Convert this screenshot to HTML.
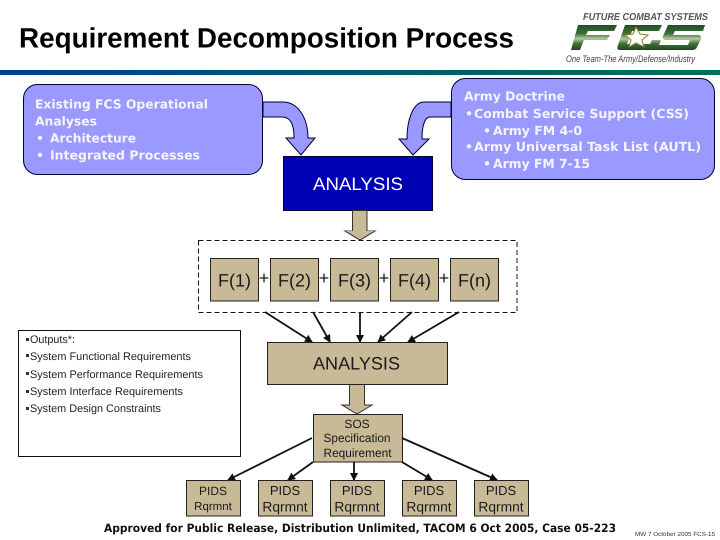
<!DOCTYPE html>
<html><head><meta charset="utf-8"><style>
html,body{margin:0;padding:0;background:#fff;width:720px;height:540px;overflow:hidden}
svg{display:block;text-rendering:geometricPrecision}
.v{font-family:"DejaVu Sans","Liberation Sans",sans-serif;font-weight:bold;fill:#f4f4ff;font-size:12.5px}
.a{font-family:"Liberation Sans",sans-serif;fill:#1a1a1a}
.o{font-family:"Liberation Sans",sans-serif;font-size:11px;fill:#222}
</style></head><body>
<svg width="720" height="540" viewBox="0 0 720 540" xmlns="http://www.w3.org/2000/svg">
<defs>
<linearGradient id="band" x1="0" x2="1" y1="0" y2="0"><stop offset="0" stop-color="#003f8c"/><stop offset="1" stop-color="#00705a"/></linearGradient>
<linearGradient id="g" x1="0" x2="0" y1="0" y2="1"><stop offset="0" stop-color="#234d23"/><stop offset=".35" stop-color="#3f6f3a"/><stop offset=".55" stop-color="#b5c8a0"/><stop offset=".75" stop-color="#3f6f3a"/><stop offset="1" stop-color="#1f451f"/></linearGradient>
<marker id="ah" markerWidth="9" markerHeight="9" refX="7" refY="4" orient="auto" markerUnits="userSpaceOnUse"><path d="M0,0L8,4L0,8z" fill="#111"/></marker>
</defs>
<rect width="720" height="540" fill="#fff"/>
<rect x="0" y="70" width="720" height="5" fill="url(#band)"/>
<text x="19" y="47.5" style="font-family:'Liberation Sans',sans-serif;font-weight:bold;font-size:28px;fill:#000" textLength="495" lengthAdjust="spacingAndGlyphs">Requirement Decomposition Process</text>

<!-- logo -->
<text x="583" y="20" style="font-family:'Liberation Sans',sans-serif;font-weight:bold;font-style:italic;font-size:10px;fill:#555" textLength="125" lengthAdjust="spacingAndGlyphs">FUTURE COMBAT SYSTEMS</text>
<g fill="url(#g)">
<path d="M578,25H617L614,31H588L586,35H610L607,40H584L580,50H571z"/>
<path d="M625,25H662L659,31H632L627,44H650L652,40H661L657,50H620Q616,50 618,45z"/>
<path d="M668,25H705L703,31H675L673,35H698Q702,35 701,39L697,47Q696,50 692,50H656L658,45H688L690,40H666Q662,40 663,36Z"/>
</g>
<path d="M636,27L640,34L648,35L642,40L644,47L636,43L629,47L631,40L625,35L633,34z" fill="#fff" stroke="#8a7a30" stroke-width="1"/>
<text x="566" y="62" style="font-family:'Liberation Sans',sans-serif;font-style:italic;font-size:9.5px;fill:#444" textLength="129" lengthAdjust="spacingAndGlyphs">One Team-The Army/Defense/Industry</text>

<!-- top boxes -->
<rect x="23.5" y="84.5" width="239" height="90" rx="14" fill="#9999ff" stroke="#000033" stroke-width="1"/>
<text class="v" x="35" y="108.5" textLength="173" lengthAdjust="spacingAndGlyphs">Existing FCS Operational</text>
<text class="v" x="35" y="125.5" textLength="62" lengthAdjust="spacingAndGlyphs">Analyses</text>
<text class="v" x="36" y="142.5">•</text>
<text class="v" x="50" y="142.5" textLength="86" lengthAdjust="spacingAndGlyphs">Architecture</text>
<text class="v" x="36" y="159.5">•</text>
<text class="v" x="50" y="159.5" textLength="150" lengthAdjust="spacingAndGlyphs">Integrated Processes</text>

<rect x="451.5" y="78.5" width="263" height="101" rx="14" fill="#9999ff" stroke="#000033" stroke-width="1"/>
<text class="v" x="464" y="100.5" textLength="101" lengthAdjust="spacingAndGlyphs">Army Doctrine</text>
<text class="v" x="465" y="118">•</text>
<text class="v" x="474" y="118" textLength="215" lengthAdjust="spacingAndGlyphs">Combat Service Support (CSS)</text>
<text class="v" x="483" y="135">•</text>
<text class="v" x="493" y="135" textLength="89" lengthAdjust="spacingAndGlyphs">Army FM 4-0</text>
<text class="v" x="465" y="151">•</text>
<text class="v" x="474" y="151" textLength="227" lengthAdjust="spacingAndGlyphs">Army Universal Task List (AUTL)</text>
<text class="v" x="483" y="168">•</text>
<text class="v" x="493" y="168" textLength="97" lengthAdjust="spacingAndGlyphs">Army FM 7-15</text>

<!-- curved arrows -->
<path d="M263,102H283C298,102 308,118 308,138H315L301,155L286,138H294C294,125 291,117 282,117H263z" fill="#9999ff" stroke="#000033" stroke-width="1"/>
<path d="M451,102H424C414,102 407,118 407,139H399L413,155L429,139H422C422,128 424,117 430,117H451z" fill="#9999ff" stroke="#000033" stroke-width="1"/>

<!-- blue analysis -->
<rect x="283.5" y="156.5" width="149" height="54" fill="#0000b4" stroke="#000033" stroke-width="1"/>
<text x="313" y="190" style="font-family:'Liberation Sans',sans-serif;font-size:18px;fill:#fff" textLength="90" lengthAdjust="spacingAndGlyphs">ANALYSIS</text>

<!-- tan arrow 1 -->
<path d="M352.5,210.5H367V231H375L360,240L345,231H352.5z" fill="#c8ba96" stroke="#333" stroke-width="1"/>

<!-- dashed box -->
<rect x="198.5" y="240.5" width="318.5" height="72" fill="#fff" stroke="#111" stroke-width="1" stroke-dasharray="5 3"/>
<path d="M345,231L360,240L375,231" fill="#c8ba96" stroke="#333"/>
<g fill="#c8ba96" stroke="#222" stroke-width="1">
<rect x="210.5" y="258.5" width="48" height="42.5"/>
<rect x="270.5" y="258.5" width="48" height="42.5"/>
<rect x="330.5" y="258.5" width="48" height="42.5"/>
<rect x="390.5" y="258.5" width="48" height="42.5"/>
<rect x="450.5" y="258.5" width="48" height="42.5"/>
</g>
<g font-size="18" text-anchor="middle">
<text class="a" x="234.5" y="286.5">F(1)</text>
<text class="a" x="294.5" y="286.5">F(2)</text>
<text class="a" x="354.5" y="286.5">F(3)</text>
<text class="a" x="414.5" y="286.5">F(4)</text>
<text class="a" x="474.5" y="286.5">F(n)</text>
<text class="a" x="264" y="284">+</text>
<text class="a" x="324" y="284">+</text>
<text class="a" x="384" y="284">+</text>
<text class="a" x="444" y="284">+</text>
</g>

<!-- arrows to analysis -->
<g stroke="#111" stroke-width="1.8" fill="none" marker-end="url(#ah)">
<line x1="265" y1="312" x2="312" y2="342"/>
<line x1="313" y1="312" x2="330" y2="342"/>
<line x1="360" y1="312" x2="360" y2="342"/>
<line x1="412" y1="312" x2="378" y2="342"/>
<line x1="459" y1="312" x2="408" y2="342"/>
</g>

<!-- outputs -->
<rect x="18.5" y="330.5" width="222" height="126" fill="#fff" stroke="#111" stroke-width="1"/>
<g fill="#333">
<rect x="26" y="338" width="3" height="3"/>
<rect x="26" y="354" width="3" height="3"/>
<rect x="26" y="372" width="3" height="3"/>
<rect x="26" y="390" width="3" height="3"/>
<rect x="26" y="407" width="3" height="3"/>
</g>
<text class="o" x="30" y="343" textLength="45" lengthAdjust="spacingAndGlyphs">Outputs*:</text>
<text class="o" x="30" y="360" textLength="161" lengthAdjust="spacingAndGlyphs">System Functional Requirements</text>
<text class="o" x="30" y="378" textLength="173" lengthAdjust="spacingAndGlyphs">System Performance Requirements</text>
<text class="o" x="30" y="395" textLength="153" lengthAdjust="spacingAndGlyphs">System Interface Requirements</text>
<text class="o" x="30" y="412" textLength="131" lengthAdjust="spacingAndGlyphs">System Design Constraints</text>

<!-- analysis 2 -->
<path d="M349.5,384H364.5V405H372L357,414L342,405H349.5z" fill="#c8ba96" stroke="#333" stroke-width="1"/>
<rect x="267.5" y="342.5" width="180" height="42" fill="#c8ba96" stroke="#222" stroke-width="1"/>
<text class="a" x="313" y="369.5" font-size="18" textLength="87" lengthAdjust="spacingAndGlyphs">ANALYSIS</text>

<!-- SOS -->
<rect x="313.5" y="414.5" width="89" height="47.5" fill="#c8ba96" stroke="#222" stroke-width="1"/>
<g font-size="12" text-anchor="middle">
<text class="a" x="357" y="428">SOS</text>
<text class="a" x="357" y="442" textLength="67" lengthAdjust="spacingAndGlyphs">Specification</text>
<text class="a" x="357.5" y="457" textLength="68" lengthAdjust="spacingAndGlyphs">Requirement</text>
</g>

<g stroke="#111" stroke-width="1.8" fill="none" marker-end="url(#ah)">
<line x1="312" y1="438" x2="228" y2="480"/>
<line x1="313" y1="462" x2="288" y2="480"/>
<line x1="354" y1="462" x2="354" y2="480"/>
<line x1="402" y1="462" x2="432" y2="480"/>
<line x1="402" y1="438" x2="497" y2="480"/>
</g>

<!-- PIDS -->
<g fill="#c8ba96" stroke="#222" stroke-width="1">
<rect x="186.5" y="480.5" width="54" height="35.5"/>
<rect x="258.5" y="480.5" width="54" height="35.5"/>
<rect x="330.5" y="480.5" width="54" height="35.5"/>
<rect x="402.5" y="480.5" width="54" height="35.5"/>
<rect x="474.5" y="480.5" width="54" height="35.5"/>
</g>
<g text-anchor="middle">
<text class="a" x="213" y="495" font-size="12">PIDS</text>
<text class="a" x="213" y="510" font-size="11.5">Rqrmnt</text>
<text class="a" x="285" y="495" font-size="13">PIDS</text>
<text class="a" x="285" y="511.5" font-size="13.8">Rqrmnt</text>
<text class="a" x="357" y="495" font-size="13">PIDS</text>
<text class="a" x="357" y="511.5" font-size="13.8">Rqrmnt</text>
<text class="a" x="429" y="495" font-size="13">PIDS</text>
<text class="a" x="429" y="511.5" font-size="13.8">Rqrmnt</text>
<text class="a" x="501" y="495" font-size="13">PIDS</text>
<text class="a" x="501" y="511.5" font-size="13.8">Rqrmnt</text>
</g>

<!-- footer -->
<text x="104" y="532" style="font-family:'DejaVu Sans',sans-serif;font-weight:bold;font-size:11.5px;fill:#111" textLength="512" lengthAdjust="spacingAndGlyphs">Approved for Public Release, Distribution Unlimited, TACOM 6 Oct 2005, Case 05-223</text>
<text x="635" y="536" style="font-family:'Liberation Sans',sans-serif;font-size:6px;fill:#333" textLength="80" lengthAdjust="spacingAndGlyphs">MW 7 October 2005 FCS-15</text>
</svg>
</body></html>
